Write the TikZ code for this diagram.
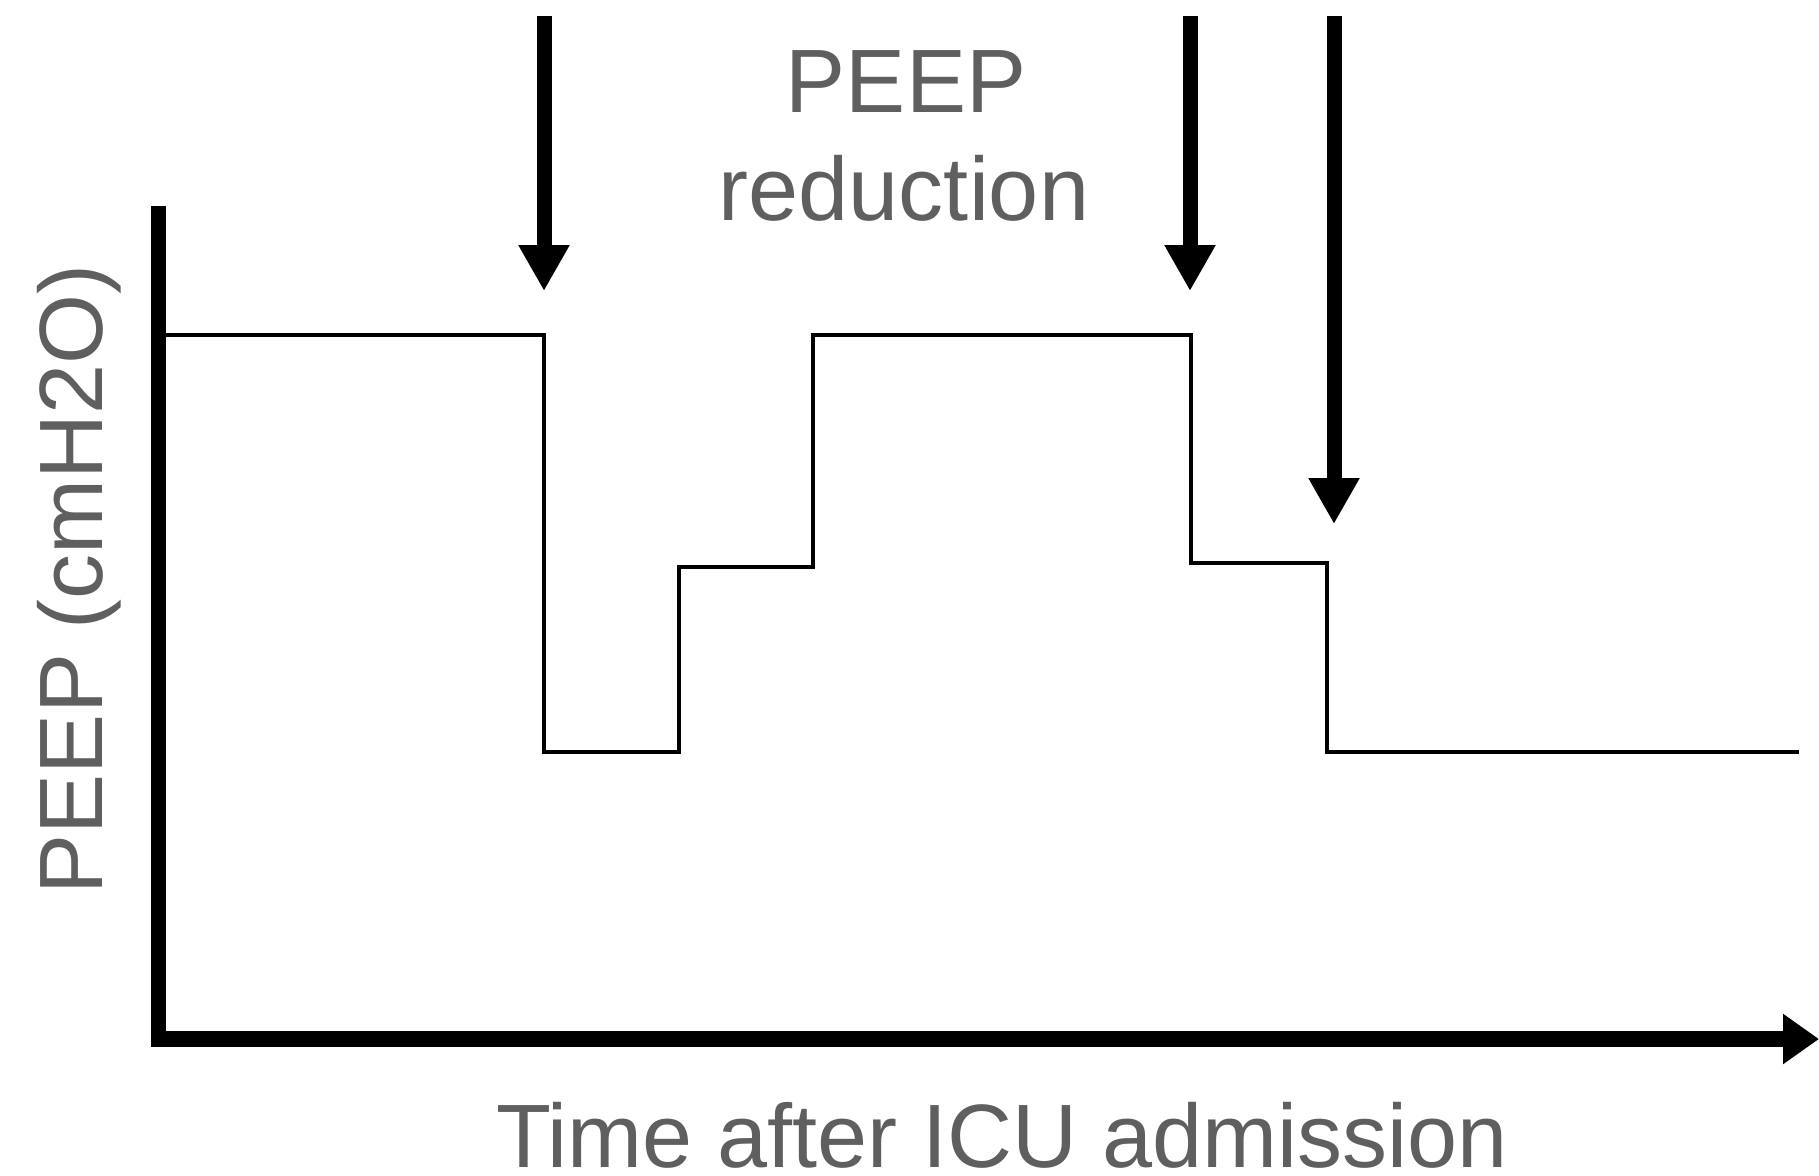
\documentclass[tikz,border=0pt]{standalone}
\usepackage{fontspec}
\setmainfont{Liberation Sans}
\usetikzlibrary{arrows.meta}
\definecolor{txtgray}{HTML}{5F5F5F}
\tikzset{
  axisline/.style={line width=7.5pt, line cap=butt},
  timeaxis/.style={line width=8pt, -{Triangle[length=18pt,width=24pt]}},
  reducearrow/.style={line width=7.5pt, -{Triangle[length=23pt,width=24pt]}},
  stepline/.style={line width=2.3pt, line join=miter},
  label/.style={text=txtgray, font=\fontsize{45}{54}\selectfont, inner sep=0pt, align=center}
}
\begin{document}
\begin{tikzpicture}[x=0.5pt,y=-0.5pt]
\useasboundingbox (0,0) rectangle (1819,1175);
% axes
\coordinate (ytop) at (158,206);
\coordinate (ybot) at (158,1047);
\coordinate (xl) at (151,1039);
\coordinate (xr) at (1819,1039);
\draw[axisline] (ytop) -- (ybot);
\draw[timeaxis] (xl) -- (xr);
% step curve
\coordinate (s0) at (166,335);
\coordinate (s1) at (544,335);
\coordinate (s2) at (544,752);
\coordinate (s3) at (679,752);
\coordinate (s4) at (679,567);
\coordinate (s5) at (813,567);
\coordinate (s6) at (813,335);
\coordinate (s7) at (1191,335);
\coordinate (s8) at (1191,563);
\coordinate (s9) at (1327,563);
\coordinate (s10) at (1327,752);
\coordinate (s11) at (1799,752);
\draw[stepline] (s0) -- (s1) -- (s2) -- (s3) -- (s4) -- (s5) -- (s6) -- (s7) -- (s8) -- (s9) -- (s10) -- (s11);
% reduction arrows
\coordinate (a1s) at (544,16);
\coordinate (a1e) at (544,291);
\coordinate (a2s) at (1190,16);
\coordinate (a2e) at (1190,291);
\coordinate (a3s) at (1334,16);
\coordinate (a3e) at (1334,524);
\draw[reducearrow] (a1s) -- (a1e);
\draw[reducearrow] (a2s) -- (a2e);
\draw[reducearrow] (a3s) -- (a3e);
% labels
\node[label, anchor=base] (peep) at (906,112.5) {PEEP};
\node[label, anchor=base] (red) at (904,220.5) {reduction};
\node[label, anchor=base] (xlab) at (1002,1167) {Time after ICU admission};
\node[label, anchor=base, rotate=90] (ylab) at (102,579) {PEEP (cmH2O)};
\end{tikzpicture}
\end{document}
